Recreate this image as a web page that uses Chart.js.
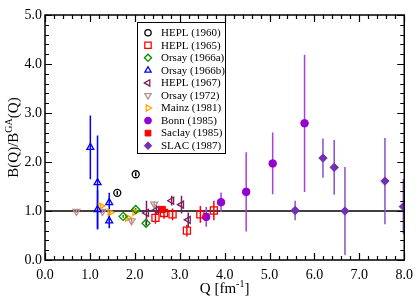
<!DOCTYPE html>
<html>
<head>
<meta charset="utf-8">
<script src="https://cdn.jsdelivr.net/npm/chart.js@4.4.1/dist/chart.umd.min.js"></script>
<style>
html,body{margin:0;padding:0;background:#fff}
</style>
</head>
<body>
<canvas id="c" width="420" height="301"></canvas>
<script>
// Q [fm^-1], B(Q)/B_GA(Q), error
var hepl60Q=[1.61,2.02];            var hepl60R=[1.37,1.75];            var hepl60E=[0.04,0.04];
var hepl65Q=[2.46,2.65,2.84,3.16,3.46,3.76];
var hepl65R=[0.86,0.96,0.93,0.60,0.93,1.01];
var hepl65E=[0.12,0.12,0.12,0.12,0.17,0.2];
var orsayAQ=[1.74,2.02,2.25];       var orsayAR=[0.89,1.03,0.75];       var orsayAE=[0.03,0.03,0.05];
var orsayBQ=[1.01,1.17,1.17,1.43,1.43];
var orsayBR=[2.30,1.58,1.03,1.17,0.80];
var orsayBE=[0.65,0.96,0.39,0.2,0.15];
var hepl67Q=[2.26,2.48,2.82,3.04,3.19];
var hepl67R=[0.96,1.02,1.21,1.13,0.82];
var hepl67E=[0.25,0.1,0.1,0.18,0.15];
var orsay72Q=[0.70,1.28,1.93,2.43]; var orsay72R=[0.99,0.99,0.80,1.14]; var orsay72E=[0.03,0.03,0.05,0.06];
var mainzQ=[1.24,1.45,1.84,2.00];   var mainzR=[1.10,0.97,0.86,0.98];   var mainzE=[0.05,0.04,0.04,0.04];
var bonnQ=[3.59,3.92,4.48,5.07,5.78];
var bonnR=[0.88,1.18,1.39,1.97,2.79];
var bonnE=[0.2,0.2,0.81,0.63,1.4];
var saclayQ=[2.61];                 var saclayR=[1.03];                 var saclayE=[0.03];
var slacQ=[5.57,6.19,6.44,6.68,7.57,7.98];
var slacR=[1.01,2.08,1.89,1.00,1.61,1.09];
var slacE=[0.2,0.4,0.56,0.9,0.88,0.56];

var xTicks=[0,1,2,3,4,5,6,7,8];
var yTicks=[0,1,2,3,4,5];

function pts(q,r){return q.map(function(v,i){return {x:v,y:r[i]};});}

function ds(label,q,r,e,color,style,rot,filled,rad){
  return {label:label,data:pts(q,r),err:e,borderColor:color,
    backgroundColor:filled?color:'rgba(0,0,0,0)',pointStyle:style,rotation:rot,
    pointRadius:rad,pointBorderWidth:filled?1:1.3,showLine:false,errColor:color};
}

var datasets=[
  ds('HEPL (1960)',hepl60Q,hepl60R,hepl60E,'#000000','circle',0,false,3.5),
  ds('HEPL (1965)',hepl65Q,hepl65R,hepl65E,'#ff0000','rect',0,false,5),
  ds('Orsay (1966a)',orsayAQ,orsayAR,orsayAE,'#009000','rectRot',0,false,4),
  ds('Orsay (1966b)',orsayBQ,orsayBR,orsayBE,'#0000ff','triangle',0,false,4),
  ds('HEPL (1967)',hepl67Q,hepl67R,hepl67E,'#7a1f5c','triangle',-90,false,4),
  ds('Orsay (1972)',orsay72Q,orsay72R,orsay72E,'#bc8f8f','triangle',180,false,4),
  ds('Mainz (1981)',mainzQ,mainzR,mainzE,'#ffa500','triangle',90,false,4),
  ds('Bonn (1985)',bonnQ,bonnR,bonnE,'#9400d3','circle',0,true,3.8),
  ds('Saclay (1985)',saclayQ,saclayR,saclayE,'#ff0000','rect',0,true,4.5),
  ds('SLAC (1987)',slacQ,slacR,slacE,'#7030b0','rectRot',0,true,4.2)
];
datasets[7].errColor='#a640e0';
datasets[9].errColor='#8a50c8';

var SERIF='"Liberation Serif","DejaVu Serif",serif';

function drawRich(ctx,parts,cx,cy,rot){
  // parts: [text, size, raise]
  var w=0;
  parts.forEach(function(p){ctx.font=p[1]+'px '+SERIF;w+=ctx.measureText(p[0]).width;});
  ctx.save();
  ctx.translate(cx,cy);ctx.rotate(rot);
  ctx.textBaseline='alphabetic';ctx.textAlign='left';ctx.fillStyle='#000';
  var x=-w/2;
  parts.forEach(function(p){ctx.font=p[1]+'px '+SERIF;ctx.fillText(p[0],x,5-p[2]);x+=ctx.measureText(p[0]).width;});
  ctx.restore();
}

var framePlugin={
  id:'frame',
  beforeDatasetsDraw:function(chart){
    var ctx=chart.ctx,a=chart.chartArea,xs=chart.scales.x,ys=chart.scales.y;
    ctx.save();
    ctx.beginPath();ctx.rect(a.left,a.top,a.right-a.left,a.bottom-a.top);ctx.clip();
    ctx.strokeStyle='#000';ctx.lineWidth=1.3;
    var y1=ys.getPixelForValue(1);
    ctx.beginPath();ctx.moveTo(a.left,y1);ctx.lineTo(a.right,y1);ctx.stroke();
    chart.data.datasets.forEach(function(d){
      ctx.strokeStyle=d.errColor;ctx.lineWidth=1.5;
      d.data.forEach(function(p,j){
        var e=d.err[j],x=xs.getPixelForValue(p.x);
        ctx.beginPath();
        ctx.moveTo(x,ys.getPixelForValue(p.y-e));
        ctx.lineTo(x,ys.getPixelForValue(p.y+e));
        ctx.stroke();
      });
    });
    ctx.restore();
  },
  afterDatasetsDraw:function(chart){
    var ctx=chart.ctx,a=chart.chartArea,xs=chart.scales.x,ys=chart.scales.y;
    ctx.save();
    ctx.strokeStyle='#000';ctx.lineWidth=1.5;
    ctx.strokeRect(a.left,a.top,a.right-a.left,a.bottom-a.top);
    ctx.lineWidth=1.2;
    var i,v,p,len;
    for(i=0;i<=40;i++){
      v=i*0.2;p=Math.round(xs.getPixelForValue(v))+0.5;len=(i%5===0)?7:4;
      ctx.beginPath();ctx.moveTo(p,a.bottom);ctx.lineTo(p,a.bottom-len);
      ctx.moveTo(p,a.top);ctx.lineTo(p,a.top+len);ctx.stroke();
    }
    for(i=0;i<=25;i++){
      v=i*0.2;p=Math.round(ys.getPixelForValue(v))+0.5;len=(i%5===0)?7:4;
      ctx.beginPath();ctx.moveTo(a.left,p);ctx.lineTo(a.left+len,p);
      ctx.moveTo(a.right,p);ctx.lineTo(a.right-len,p);ctx.stroke();
    }
    // legend
    var lx=137,ly=22,lw=88,lh=131;
    ctx.fillStyle='#fff';ctx.fillRect(lx,ly,lw,lh);
    ctx.strokeStyle='#000';ctx.lineWidth=1;ctx.strokeRect(lx+0.5,ly+0.5,lw,lh);
    chart.data.datasets.forEach(function(d,k){
      var yy=32.7+k*12.55;
      ctx.strokeStyle=d.borderColor;ctx.fillStyle=d.backgroundColor;ctx.lineWidth=d.pointBorderWidth;
      if(Chart.helpers&&Chart.helpers.drawPoint){
        Chart.helpers.drawPoint(ctx,{pointStyle:d.pointStyle,rotation:d.rotation,radius:d.pointRadius*0.9,borderWidth:d.pointBorderWidth},148,yy);
      }
      ctx.fillStyle='#000';ctx.font='11px '+SERIF;ctx.textBaseline='middle';ctx.textAlign='left';
      ctx.fillText(d.label,161,yy+0.5);
    });
    ctx.restore();
    drawRich(ctx,[['Q [fm',15,0],['-1',10,6],[']',15,0]],(a.left+a.right)/2,288,0);
    drawRich(ctx,[['B(Q)/B',15,0],['GA',10,6],['(Q)',15,0]],13,(a.top+a.bottom)/2,-Math.PI/2);
  }
};

var tickFont={family:'Liberation Serif',size:14};

new Chart(document.getElementById('c').getContext('2d'),{
  type:'scatter',
  data:{datasets:datasets},
  options:{
    responsive:false,animation:false,events:[],
    layout:{padding:{top:15,right:11,left:0,bottom:0}},
    plugins:{legend:{display:false},tooltip:{enabled:false}},
    scales:{
      x:{type:'linear',min:0,max:8,
        afterBuildTicks:function(s){s.ticks=xTicks.map(function(v){return {value:v};});},
        ticks:{callback:function(v){return v.toFixed(1);},font:tickFont,color:'#000',padding:7,maxRotation:0,autoSkip:false},
        grid:{display:false,drawTicks:false},border:{display:false},
        afterFit:function(s){s.height=41;}},
      y:{type:'linear',min:0,max:5,
        afterBuildTicks:function(s){s.ticks=yTicks.map(function(v){return {value:v};});},
        ticks:{callback:function(v){return v.toFixed(1);},font:tickFont,color:'#000',padding:3},
        grid:{display:false,drawTicks:false},border:{display:false},
        afterFit:function(s){s.width=45;}}
    }
  },
  plugins:[framePlugin]
});
</script>
</body>
</html>
